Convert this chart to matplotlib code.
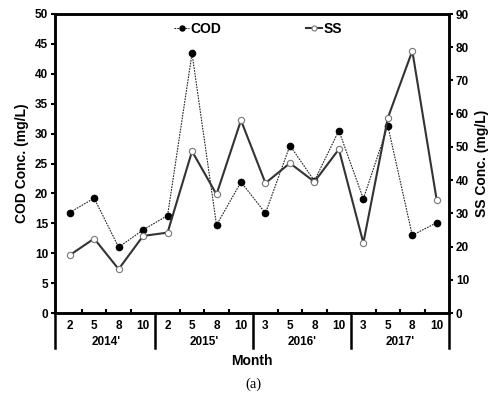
import matplotlib
matplotlib.use("Agg")
import matplotlib.pyplot as plt
import matplotlib.transforms as mtransforms

plt.rcParams["font.family"] = ["Liberation Sans", "DejaVu Sans"]

# data
months = ["2", "5", "8", "10", "2", "5", "8", "10", "3", "5", "8", "10", "3", "5", "8", "10"]
years = ["2014'", "2015'", "2016'", "2017'"]
cod = [16.8, 19.2, 11.0, 13.9, 16.3, 43.4, 14.7, 21.9,
       16.7, 28.0, 22.1, 30.5, 19.1, 31.3, 13.0, 15.1]
ss = [17.4, 22.4, 13.2, 23.2, 24.2, 48.7, 35.7, 58.0,
      39.1, 45.1, 39.5, 49.3, 21.1, 58.7, 78.9, 33.9]

x = list(range(len(months)))

fig = plt.figure(figsize=(4.98, 3.97), dpi=100)
ax = fig.add_axes([55 / 498, 1 - 313 / 397, (449 - 55) / 498, (313 - 14) / 397])
ax2 = ax.twinx()

ax.plot(x, cod, color="#222222", lw=0.8, ls=(0, (1.5, 1)), marker="o", ms=4.5,
        mfc="black", mec="black", label="COD", zorder=3)
ax2.plot(x, ss, color="#333333", lw=1.5, ls="-", marker="o", ms=4.5,
         mfc="white", mec="#777777", mew=0.8, label="SS", zorder=3)

ax.set_xlim(-0.6, 15.5)
ax.set_ylim(0, 50)
ax2.set_ylim(0, 90)
ax.set_yticks(range(0, 51, 5))
ax2.set_yticks(range(0, 91, 10))

for a in (ax, ax2):
    for s in a.spines.values():
        s.set_linewidth(1.8)

ax.tick_params(axis="y", direction="out", length=3, width=1.5, labelsize=8.5, pad=2)
ax2.tick_params(axis="y", direction="out", length=3, width=1.5, labelsize=8.5, pad=2)
for lab in ax.get_yticklabels() + ax2.get_yticklabels():
    lab.set_fontweight("bold")

# month labels as major ticks without marks, inner ticks between months
ax.set_xticks(x)
ax.set_xticklabels(months, fontsize=8.5, fontweight="bold")
ax.tick_params(axis="x", length=0, pad=5)
minor = [i + 0.5 for i in x[:-1] if (i + 1) % 4 != 0]
ax.set_xticks(minor, minor=True)
ax.tick_params(axis="x", which="minor", direction="in", length=3, width=1.5)

# year separators below the axis
trans = mtransforms.blended_transform_factory(ax.transData, ax.transAxes)
for xs in [-0.6, 3.5, 7.5, 11.5, 15.5]:
    ax.plot([xs, xs], [0, -35 / 299], transform=trans, color="black",
            lw=1.8, clip_on=False)
for k, yr in enumerate(years):
    ax.text(4 * k + 1.5, -29 / 299, yr, transform=trans, ha="center",
            va="center", fontsize=8.5, fontweight="bold")

ax.set_ylabel("COD Conc. (mg/L)", fontsize=10, fontweight="bold", labelpad=4)
ax2.set_ylabel("SS Conc. (mg/L)", fontsize=10, fontweight="bold", labelpad=4)
fig.text(252 / 498, 1 - 361 / 397, "Month", ha="center", va="center",
         fontsize=10, fontweight="bold")
fig.text(253 / 498, 1 - 384 / 397, "(a)", ha="center", va="center",
         fontsize=10.5, family=["Liberation Serif", "DejaVu Serif"])

h1, l1 = ax.get_legend_handles_labels()
h2, l2 = ax2.get_legend_handles_labels()
ax2.legend(h1 + h2, l1 + l2, loc="upper center", ncol=2, frameon=False,
           handlelength=1.1, handletextpad=0.1, columnspacing=6.1,
           prop={"weight": "bold", "size": 10},
           bbox_to_anchor=(0.515, 1.015), markerscale=0.8)

fig.savefig("out.png", dpi=100)
